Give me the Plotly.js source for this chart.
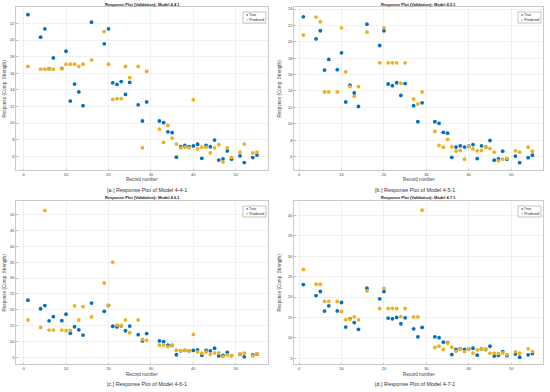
<!DOCTYPE html>
<html>
<head>
<meta charset="utf-8">
<script src="https://cdn.plot.ly/plotly-3.0.1.min.js"></script>
<style>html,body{margin:0;padding:0;background:#fff;}#chart{width:550px;height:392px;}</style>
</head>
<body>
<div id="chart"></div>
<script>
// ---- data ----
const records = [1,4,5,6,7,9,10,11,12,13,14,16,19,20,21,22,23,24,25,27,28,29,32,33,34,35,36,37,38,39,40,41,42,43,44,45,46,47,48,49,51,52,54,55];
const trueVals = [23.05,20.35,21.35,16.55,17.85,16.6,18.65,12.65,14.7,13.75,12.1,22.15,19.55,21.35,14.85,14.65,15.0,13.45,14.9,12.2,10.25,12.55,10.25,10.05,8.95,8.85,5.9,7.15,7.3,7.15,7.25,7.45,5.75,7.3,7.15,7.95,5.55,5.7,6.65,5.65,6.05,5.25,5.85,6.15];
const pred441 = [16.82,16.49,16.49,16.53,16.49,16.53,17.1,17.1,17.1,16.82,17.1,17.59,21.02,17.1,12.86,12.94,12.94,16.82,15.47,16.82,7.02,16.24,9.27,7.67,9.71,8.2,7.47,7.02,7.1,7.02,12.82,6.9,7.1,7.1,6.41,7.02,7.39,5.31,7.02,5.88,6.49,7.47,6.41,6.49];
const pred451 = [20.82,23.02,22.45,13.88,13.88,13.88,21.71,16.33,14.53,13.35,14.53,21.18,17.43,21.71,17.43,17.43,17.43,14.94,17.43,13.02,12.41,13.88,9.06,7.35,7.14,8.08,7.18,6.65,6.73,5.67,7.22,6.94,6.69,6.73,7.14,6.98,6.53,5.47,5.67,5.76,6.69,6.53,7.14,6.65];
const pred461 = [16.83,14.5,51.25,13.66,13.66,13.66,13.45,13.55,21.26,16.83,21.05,17.78,28.44,21.47,34.99,15.24,15.14,16.83,12.81,16.83,10.7,10.39,8.91,8.91,8.48,8.91,7.32,7.22,7.32,7.22,12.29,6.8,6.37,6.8,5.95,6.48,6.48,5.32,5.84,5.63,6.16,6.37,5.53,6.27];
const pred471 = [26.75,23.12,23.12,18.92,18.92,18.92,16.45,14.47,14.56,15.13,14.39,21.47,17.19,22.13,17.19,17.19,17.19,15.21,17.19,15.13,15.13,41.24,7.64,7.97,7.22,8.71,7.72,6.73,7.22,6.65,7.31,6.24,7.06,7.31,7.22,6.24,6.24,6.15,6.32,5.91,6.57,6.24,7.31,6.65];
const predictions = [pred441, pred451, pred461, pred471];
const panelTitles = ["Response Plot (Validation): Model 4.4.1","Response Plot (Validation): Model 4.5.1","Response Plot (Validation): Model 4.6.1","Response Plot (Validation): Model 4.7.1"];
const captions = ["[a.] Response Plot of Model 4-4-1","[b.] Response Plot of Model 4-5-1","[c.] Response Plot of Model 4-6-1","[d.] Response Plot of Model 4-7-1"];
const seriesNames = ["True","Predicted"];
const xTicks = [0,10,20,30,40,50];
const yTicksSets = [[6,8,10,12,14,16,18,20,22,24],[6,8,10,12,14,16,18,20,22,24],[5,10,15,20,25,30,35,40,45,50],[5,10,15,20,25,30,35,40]];

// ---- layout geometry (pixels) ----
const W = 550, H = 392;
const boxes = [
  {l:16, r:268, t:7, b:170, xr:[-1.8,57.6], yr:[4.35,23.98], cap:147, ytx:4},
  {l:294, r:543, t:7, b:170, xr:[-1.2,57.5], yr:[4.35,24.25], cap:415, ytx:279},
  {l:16, r:268, t:201, b:364, xr:[-1.8,57.6], yr:[3.0,54.2], cap:147, ytx:4},
  {l:294, r:543, t:201, b:364, xr:[-1.2,57.5], yr:[3.6,43.5], cap:415, ytx:279}
];
const BLUE = '#0072BD', ORANGE = '#EDB120';
const FONT = 'Liberation Sans, Arial, sans-serif';

const px = x => x / W;
const py = y => (H - y) / H;

const traces = [];
const layout = {
  width: W, height: H,
  margin: {l:0, r:0, t:0, b:0},
  paper_bgcolor: '#fff', plot_bgcolor: '#fff',
  showlegend: false,
  font: {family: FONT, color: '#444'},
  annotations: [], shapes: []
};

boxes.forEach((bx, i) => {
  const n = i + 1;
  const xa = n === 1 ? 'x' : 'x' + n, ya = n === 1 ? 'y' : 'y' + n;
  const xk = n === 1 ? 'xaxis' : 'xaxis' + n, yk = n === 1 ? 'yaxis' : 'yaxis' + n;
  traces.push({x: records, y: trueVals, xaxis: xa, yaxis: ya, type: 'scatter', mode: 'markers', name: seriesNames[0],
    marker: {color: BLUE, size: 3.8}});
  traces.push({x: records, y: predictions[i], xaxis: xa, yaxis: ya, type: 'scatter', mode: 'markers', name: seriesNames[1],
    marker: {color: ORANGE, size: 3.8}});
  const common = {showgrid: true, gridcolor: '#e8e8e8', gridwidth: 0.6, zeroline: false,
    showline: true, linecolor: '#bdbdbd', linewidth: 0.8, mirror: true,
    ticks: 'inside', ticklen: 1.5, tickcolor: '#bdbdbd',
    tickfont: {size: 4, color: '#444', family: FONT}, automargin: false, fixedrange: true};
  layout[xk] = Object.assign({}, common, {domain: [px(bx.l), px(bx.r)], range: bx.xr,
    tickvals: xTicks, ticktext: xTicks.map(String), anchor: ya});
  const yt = yTicksSets[i];
  layout[yk] = Object.assign({}, common, {domain: [py(bx.b), py(bx.t)], range: bx.yr,
    tickvals: yt, ticktext: yt.map(String), anchor: xa});
  const cx = (bx.l + bx.r) / 2;
  // panel title
  layout.annotations.push({xref: 'paper', yref: 'paper', x: px(cx), y: py(bx.t - 3), xanchor: 'center', yanchor: 'middle',
    text: '<b>' + panelTitles[i] + '</b>', showarrow: false, font: {size: 4, color: '#222', family: FONT}});
  // x title
  layout.annotations.push({xref: 'paper', yref: 'paper', x: px(cx), y: py(bx.b + 10), xanchor: 'center', yanchor: 'middle',
    text: 'Record number', showarrow: false, font: {size: 4.6, color: '#444', family: FONT}});
  // y title
  layout.annotations.push({xref: 'paper', yref: 'paper', x: px(bx.ytx), y: py((bx.t + bx.b) / 2), xanchor: 'center', yanchor: 'middle',
    textangle: -90, text: 'Response (Comp. Strength)', showarrow: false, font: {size: 4.6, color: '#444', family: FONT}});
  // caption
  layout.annotations.push({xref: 'paper', yref: 'paper', x: px(bx.cap), y: py(bx.b + 20), xanchor: 'center', yanchor: 'middle',
    text: captions[i], showarrow: false, font: {size: 5.4, color: '#333', family: FONT}});
  // legend box
  const lx0 = bx.r - 25, lx1 = bx.r - 2, ly0 = bx.t + 5, ly1 = bx.t + 16;
  layout.shapes.push({type: 'rect', xref: 'paper', yref: 'paper', x0: px(lx0), x1: px(lx1), y0: py(ly1), y1: py(ly0),
    line: {color: '#9a9a9a', width: 0.6}, fillcolor: '#fff', layer: 'above'});
  layout.annotations.push({xref: 'paper', yref: 'paper', x: px(lx0 + 1), y: py(ly0 + 3), xanchor: 'left', yanchor: 'middle',
    text: '<span style="color:' + BLUE + '">●</span> ' + seriesNames[0], showarrow: false, font: {size: 3.6, color: '#222', family: FONT}});
  layout.annotations.push({xref: 'paper', yref: 'paper', x: px(lx0 + 1), y: py(ly0 + 8), xanchor: 'left', yanchor: 'middle',
    text: '<span style="color:' + ORANGE + '">●</span> ' + seriesNames[1], showarrow: false, font: {size: 3.6, color: '#222', family: FONT}});
});

Plotly.newPlot('chart', traces, layout, {displayModeBar: false, staticPlot: true});
</script>
</body>
</html>
